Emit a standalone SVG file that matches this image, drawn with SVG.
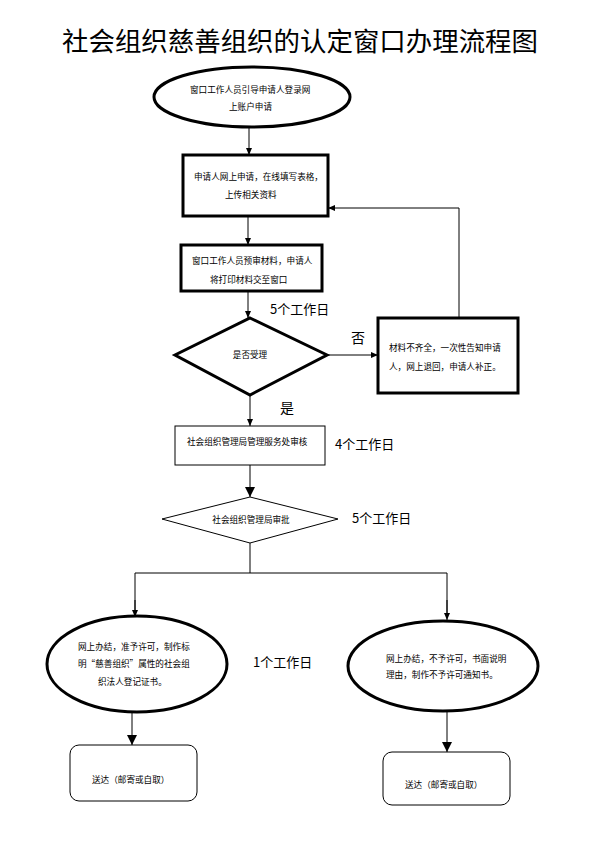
<svg xmlns="http://www.w3.org/2000/svg" width="598" height="843" viewBox="0 0 598 843">
<defs>
<style>
.t{font-family:"Noto Sans CJK SC","Liberation Sans",sans-serif;fill:#000}
.s{font-size:8.6px}
.d{font-size:13px}
.thick{fill:#fff;stroke:#000;stroke-width:3}
.thin{fill:#fff;stroke:#000;stroke-width:1}
.c{fill:none;stroke:#000;stroke-width:1}
</style>
<marker id="a" markerUnits="userSpaceOnUse" markerWidth="7" markerHeight="7" refX="7" refY="3.5" orient="auto"><path d="M0,0.5 L7,3.5 L0,6.5 Z" fill="#000"/></marker>
<marker id="b" markerUnits="userSpaceOnUse" markerWidth="10" markerHeight="10" refX="10" refY="5" orient="auto"><path d="M0,0 L10,5 L0,10 Z" fill="#000"/></marker>
</defs>
<rect width="598" height="843" fill="#fff"/>
<text class="t" x="62" y="51" font-size="26.5" textLength="476" lengthAdjust="spacingAndGlyphs">社会组织慈善组织的认定窗口办理流程图</text>

<g id="connectors">
<line class="c" x1="249" y1="128" x2="249" y2="155" marker-end="url(#a)"/>
<line class="c" x1="248" y1="216" x2="248" y2="245" marker-end="url(#a)"/>
<line class="c" x1="248" y1="291" x2="248" y2="318" marker-end="url(#a)"/>
<line class="c" x1="327" y1="355" x2="378" y2="355" marker-end="url(#a)"/>
<polyline class="c" points="459,318 459,208 328,208" marker-end="url(#a)"/>
<line class="c" x1="250" y1="395" x2="250" y2="426" marker-end="url(#a)"/>
<line class="c" x1="250" y1="465" x2="250" y2="497" marker-end="url(#b)"/>
<line class="c" x1="250" y1="543" x2="250" y2="573"/>
<polyline class="c" points="135,617 135,573 447,573 447,617"/>
<line class="c" x1="135" y1="600" x2="135" y2="617" marker-end="url(#a)"/>
<line class="c" x1="447" y1="600" x2="447" y2="620" marker-end="url(#a)"/>
<line class="c" x1="132" y1="712" x2="132" y2="745" marker-end="url(#b)"/>
<line class="c" x1="447" y1="710" x2="447" y2="752" marker-end="url(#b)"/>
<text class="t d" x="270" y="314">5个工作日</text>
<text class="t" x="351" y="343" font-size="14">否</text>
<text class="t" x="280" y="413" font-size="14">是</text>
<text class="t d" x="335" y="449">4个工作日</text>
<text class="t d" x="352" y="523">5个工作日</text>
<text class="t d" x="253" y="667">1个工作日</text>
</g>

<g id="n1">
<ellipse class="thick" cx="252" cy="97" rx="98" ry="30"/>
<text class="t s" x="190" y="93">窗口工作人员引导申请人登录网</text>
<text class="t s" x="229" y="110">上账户申请</text>
</g>
<g id="n2">
<rect class="thick" x="183" y="155" width="145" height="61"/>
<text class="t s" x="194" y="180">申请人网上申请，在线填写表格，</text>
<text class="t s" x="225" y="198">上传相关资料</text>
</g>
<g id="n3">
<rect class="thick" x="181" y="245" width="141" height="46"/>
<text class="t s" x="192" y="264">窗口工作人员预审材料，申请人</text>
<text class="t s" x="210" y="283">将打印材料交至窗口</text>
</g>
<g id="n4">
<polygon class="thick" points="250,318 327,355 250,395 175,355" stroke-width="2.5"/>
<text class="t s" x="250" y="358" text-anchor="middle">是否受理</text>
</g>
<g id="n5">
<rect class="thick" x="378" y="318" width="140" height="75"/>
<text class="t s" x="389" y="351">材料不齐全，一次性告知申请</text>
<text class="t s" x="389" y="370">人，网上退回，申请人补正。</text>
</g>
<g id="n6">
<rect class="thin" x="175" y="426" width="150" height="39"/>
<text class="t s" x="187" y="445">社会组织管理局管理服务处审核</text>
</g>
<g id="n7">
<polygon class="thin" points="250,497 338,519 250,543 162,519"/>
<text class="t s" x="251" y="523" text-anchor="middle">社会组织管理局审批</text>
</g>
<g id="n8">
<ellipse class="thick" cx="137" cy="664" rx="90" ry="48"/>
<text class="t s" x="78" y="650">网上办结，准予许可，制作标</text>
<text class="t s" x="78" y="667">明“慈善组织”属性的社会组</text>
<text class="t s" x="98" y="685">织法人登记证书。</text>
</g>
<g id="n9">
<ellipse class="thick" cx="443" cy="666" rx="95" ry="45"/>
<text class="t s" x="386" y="662">网上办结，不予许可，书面说明</text>
<text class="t s" x="386" y="678">理由，制作不予许可通知书。</text>
</g>
<g id="n10">
<rect class="thin" x="70" y="745" width="127" height="56" rx="9"/>
<text class="t s" x="92" y="783">送达（邮寄或自取）</text>
</g>
<g id="n11">
<rect class="thin" x="383" y="752" width="127" height="53" rx="9"/>
<text class="t s" x="405" y="788">送达（邮寄或自取）</text>
</g>
</svg>
